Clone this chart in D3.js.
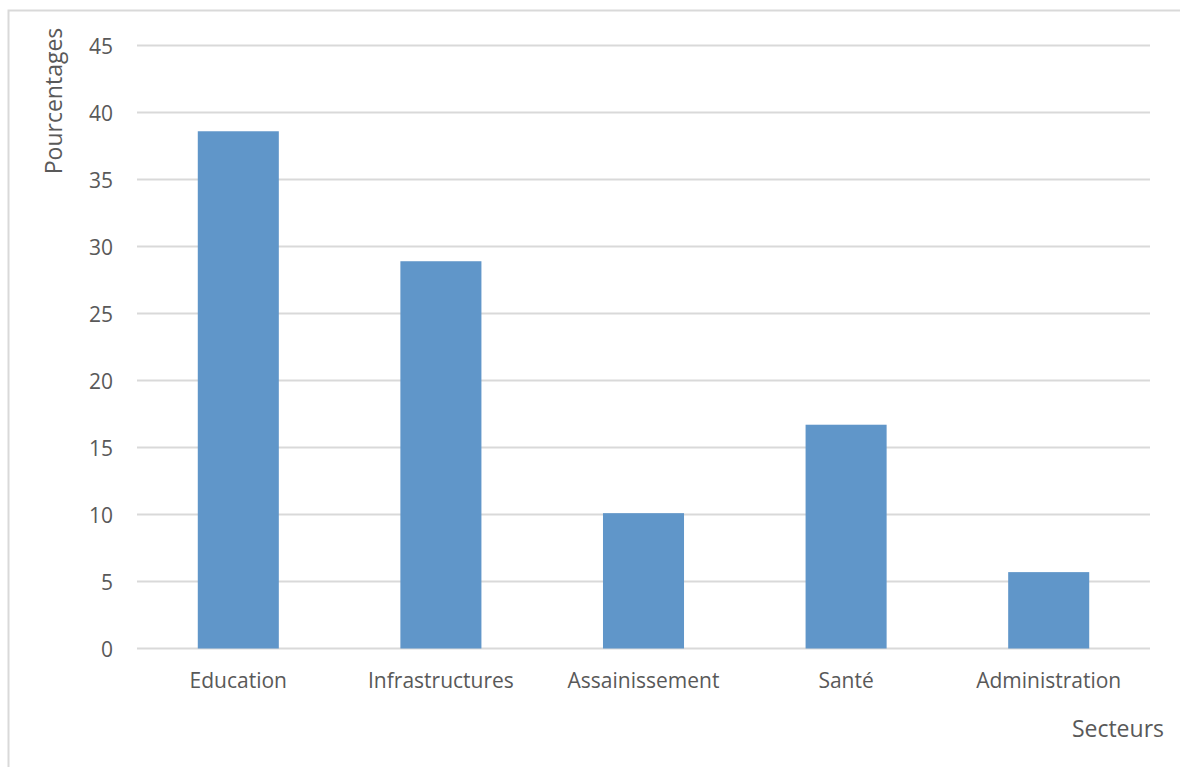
<!DOCTYPE html>
<html>
<head>
<meta charset="utf-8">
<script src="https://cdn.jsdelivr.net/npm/d3@7"></script>
<style>
  html, body { margin: 0; padding: 0; background: #fff; }
  svg { display: block; }
  text { font-family: "Open Sans", "Liberation Sans", sans-serif; fill: #595959; }
</style>
</head>
<body>
<svg id="chart" width="1180" height="767"></svg>
<script>
const categories = ["Education", "Infrastructures", "Assainissement", "Santé", "Administration"];
const values = [38.6, 28.9, 10.1, 16.7, 5.7];
const yTicks = [0, 5, 10, 15, 20, 25, 30, 35, 40, 45];
const yTitle = "Pourcentages";
const xTitle = "Secteurs";

const svg = d3.select("#chart");

// outer chart border
svg.append("rect")
  .attr("x", 8.5).attr("y", 10.5)
  .attr("width", 1190).attr("height", 780)
  .attr("fill", "none").attr("stroke", "#d9d9d9").attr("stroke-width", 2);

const x = d3.scaleBand().domain(categories).range([137, 1150]).paddingInner(0.6).paddingOuter(0.3);
const y = d3.scaleLinear().domain([0, 45]).range([648.5, 45.5]);

// gridlines
svg.append("g").selectAll("line").data(yTicks).join("line")
  .attr("x1", 137).attr("x2", 1150)
  .attr("y1", d => y(d)).attr("y2", d => y(d))
  .attr("stroke", "#d9d9d9").attr("stroke-width", 2);

// y axis labels
const yAxis = d3.axisLeft(y).tickValues(yTicks).tickSize(0).tickPadding(0);
const gy = svg.append("g").attr("transform", "translate(113,1)").call(yAxis);
gy.select(".domain").remove();
gy.selectAll("text").attr("font-size", 21).attr("dy", "0.35em")
  .style("font-family", '"Open Sans", sans-serif').attr("fill", "#595959");

// bars
svg.append("g").selectAll("rect").data(values).join("rect")
  .attr("x", (d, i) => x(categories[i]))
  .attr("width", x.bandwidth())
  .attr("y", d => y(d))
  .attr("height", d => y(0) - y(d))
  .attr("fill", "#6096c9");

// x axis labels
const xAxis = d3.axisBottom(x).tickSize(0).tickPadding(0);
const gx = svg.append("g").attr("transform", "translate(0,673)").call(xAxis);
gx.select(".domain").remove();
gx.selectAll("text").attr("font-size", 21).attr("dy", "0.71em")
  .style("font-family", '"Open Sans", sans-serif').attr("fill", "#595959");

// axis titles
svg.append("text")
  .attr("transform", "translate(62,101) rotate(-90)")
  .attr("text-anchor", "middle")
  .attr("font-size", 23)
  .text(yTitle);

svg.append("text")
  .attr("x", 1164).attr("y", 737)
  .attr("text-anchor", "end")
  .attr("font-size", 23)
  .text(xTitle);
</script>
</body>
</html>
